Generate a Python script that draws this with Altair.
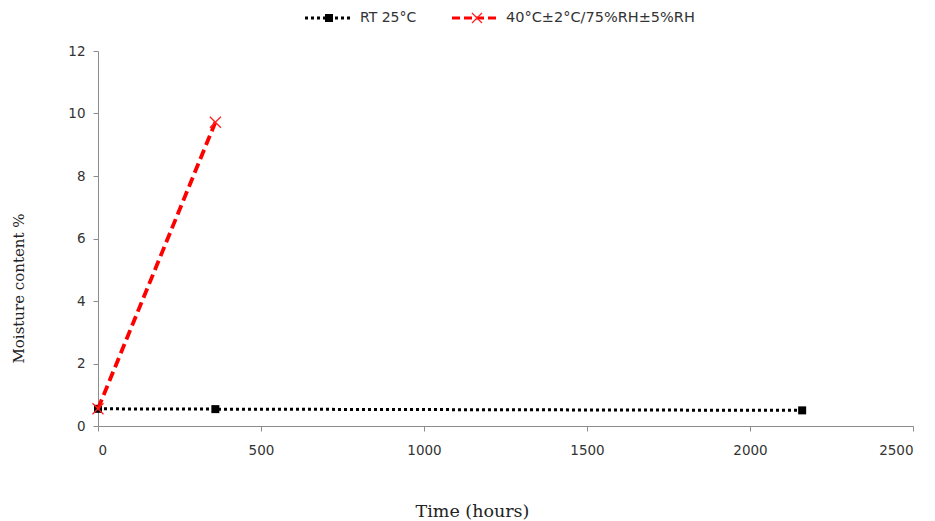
import altair as alt
import pandas as pd

# ---- data ----
series_names = ["RT 25°C", "40°C±2°C/75%RH±5%RH"]
rt_time = [0, 360, 2160]
rt_moisture = [0.55, 0.54, 0.50]
hot_time = [0, 360]
hot_moisture = [0.55, 9.72]
x_ticks = [0, 500, 1000, 1500, 2000, 2500]
y_ticks = [0, 2, 4, 6, 8, 10, 12]

df = pd.DataFrame({
    "time": rt_time + hot_time,
    "moisture": rt_moisture + hot_moisture,
    "series": [series_names[0]] * len(rt_time) + [series_names[1]] * len(hot_time),
})

X_PATH = "M-1,-1L1,1M-1,1L1,-1"
AXIS_GREY = "#8c8c8c"
LABEL_COLOR = "#333333"
SANS = "DejaVu Sans"
SERIF = "DejaVu Serif"

W, H = 815, 375

x_enc = alt.X(
    "time:Q",
    scale=alt.Scale(domain=[0, 2500], nice=False, zero=True),
    axis=alt.Axis(
        values=x_ticks, format="d", title="Time (hours)", grid=False,
        domainColor=AXIS_GREY, tickColor=AXIS_GREY, tickSize=5,
        labelFont=SANS, labelFontSize=13.5, labelColor=LABEL_COLOR, labelPadding=12,
        titleFont=SERIF, titleFontSize=17.5, titleFontWeight="normal", titleColor="#222222",
        titleX=374, titleY=85, titleBaseline="middle", titleAnchor="middle",
    ),
)
y_enc = alt.Y(
    "moisture:Q",
    scale=alt.Scale(domain=[0, 12], nice=False),
    axis=alt.Axis(
        values=y_ticks, format="d", title="Moisture content %", grid=False,
        domainColor=AXIS_GREY, tickColor=AXIS_GREY, tickSize=5,
        labelFont=SANS, labelFontSize=13.5, labelColor=LABEL_COLOR, labelPadding=8,
        titleFont=SERIF, titleFontSize=15, titleFontWeight="normal", titleColor="#222222",
        titleX=-80, titleY=237, titleAngle=-90, titleBaseline="middle", titleAnchor="middle",
    ),
)

base = alt.Chart(df)

rt = base.transform_filter(alt.datum.series == series_names[0])
hot = base.transform_filter(alt.datum.series == series_names[1])

rt_line = rt.mark_line(color="black", strokeWidth=3, strokeDash=[3, 3]).encode(x=x_enc, y=y_enc)
rt_pts = rt.mark_point(shape="square", filled=True, color="black", size=64, opacity=1).encode(x="time:Q", y="moisture:Q")
hot_line = hot.mark_line(color="#ff0000", strokeWidth=3.8, strokeDash=[10, 5]).encode(x="time:Q", y="moisture:Q")
hot_pts = hot.mark_point(shape=X_PATH, filled=False, color="#ff2020", strokeWidth=1.3, size=121, opacity=1).encode(x="time:Q", y="moisture:Q")

# ---- manual legend above the plot ----
leg1 = alt.Chart(pd.DataFrame({"series": [series_names[0]]}))
leg2 = alt.Chart(pd.DataFrame({"series": [series_names[1]]}))
LY = -33
legend = alt.layer(
    leg1.mark_rule(color="black", strokeWidth=3, strokeDash=[3, 3]).encode(
        x=alt.value(207), x2=alt.value(253), y=alt.value(LY)),
    leg1.mark_point(shape="square", filled=True, color="black", size=64, opacity=1).encode(
        x=alt.value(231), y=alt.value(LY)),
    leg1.mark_text(align="left", baseline="middle", font=SANS, fontSize=14, color=LABEL_COLOR).encode(
        x=alt.value(262), y=alt.value(LY), text="series:N"),
    leg2.mark_rule(color="#ff0000", strokeWidth=3, strokeDash=[8, 4]).encode(
        x=alt.value(354), x2=alt.value(402), y=alt.value(LY)),
    leg2.mark_point(shape=X_PATH, filled=False, color="#ff2020", strokeWidth=1.3, size=100, opacity=1).encode(
        x=alt.value(379), y=alt.value(LY)),
    leg2.mark_text(align="left", baseline="middle", font=SANS, fontSize=14.5, color=LABEL_COLOR).encode(
        x=alt.value(408), y=alt.value(LY), text="series:N"),
)

chart = alt.layer(rt_line, rt_pts, hot_line, hot_pts, legend).properties(
    width=W, height=H,
    background="white",
    autosize=alt.AutoSizeParams(type="none"),
    padding={"left": 90, "top": 43, "right": 14, "bottom": 95},
).configure_view(stroke=None)

chart.save("out.html", embed_options={"renderer": "svg", "actions": False})
